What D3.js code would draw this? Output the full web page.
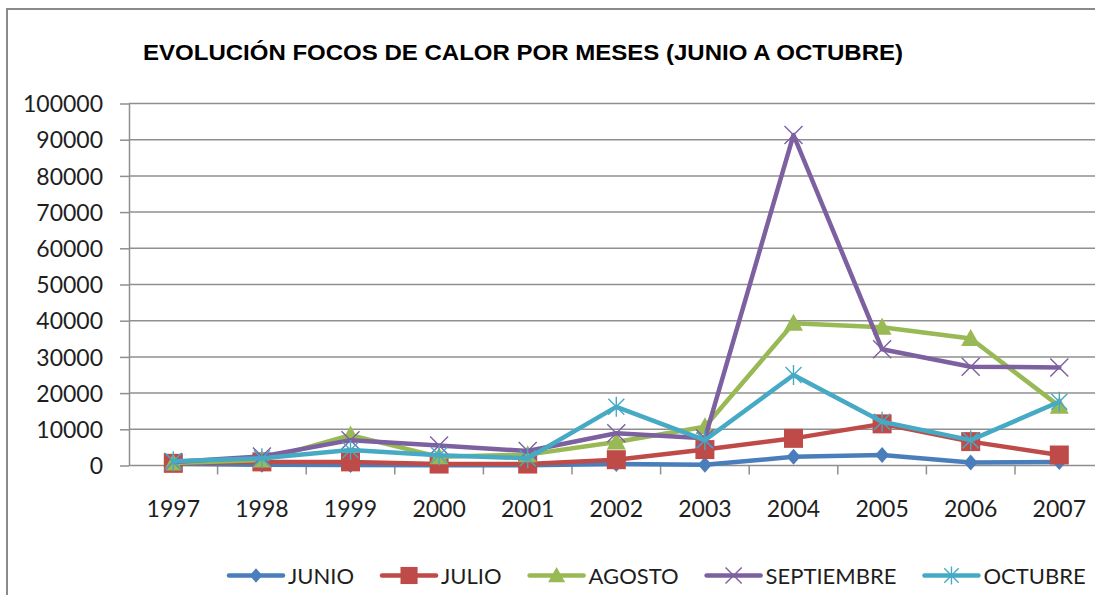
<!DOCTYPE html>
<html><head><meta charset="utf-8">
<script src="https://cdn.jsdelivr.net/npm/d3@7"></script>
<style>body{margin:0;background:#fff}svg{display:block}</style>
</head><body>
<svg id="c" width="1095" height="595"></svg>
<script>
const years = ["1997","1998","1999","2000","2001","2002","2003","2004","2005","2006","2007"];
const junio      = [500, 200, 150, 100, 100, 400, 200, 2400, 2900, 800, 1000];
const julio      = [600, 1000, 1000, 400, 400, 1600, 4400, 7500, 11500, 6600, 2900];
const agosto     = [700, 1500, 8400, 2400, 3000, 6500, 10700, 39300, 38200, 35100, 16400];
const septiembre = [1000, 2500, 7000, 5500, 4000, 8900, 7500, 91300, 32100, 27300, 27100];
const octubre    = [1200, 2000, 4300, 2800, 2000, 16200, 7000, 25000, 12100, 7000, 17600];
const seriesNames = ["JUNIO","JULIO","AGOSTO","SEPTIEMBRE","OCTUBRE"];
const yTicks = [0,10000,20000,30000,40000,50000,60000,70000,80000,90000,100000];
const titleText = "EVOLUCIÓN FOCOS DE CALOR POR MESES (JUNIO A OCTUBRE)";

const seriesValues = [junio, julio, agosto, septiembre, octubre];
const colors = ["#4A7EBB","#BE4B48","#98B954","#7D60A0","#46AAC5"];
const markerKinds = ["diamond","square","triangle","x","star"];

const svg = d3.select("#c");
const tickFont = "Lato, 'Liberation Sans', sans-serif";
const tickWeight = 400;
const textColor = "#1e1e1e";

// border
svg.append("path").attr("d","M7,600 V9 H1100").attr("fill","none")
  .attr("stroke","#8a8a8a").attr("stroke-width",2);

// title
svg.append("text").attr("x",143).attr("y",59.5)
  .attr("font-family","'Liberation Sans', Arial, sans-serif")
  .attr("font-weight","bold").attr("font-size",21.4)
  .attr("textLength",760).attr("lengthAdjust","spacingAndGlyphs")
  .attr("fill","#000").text(titleText);

const x = d3.scaleBand().domain(years).range([129, 1103.6]).paddingInner(0).paddingOuter(0);
const y = d3.scaleLinear().domain([0,100000]).range([465.5, 103.5]);
const cx = d => x(d) + x.bandwidth()/2;

// gridlines
svg.append("g").selectAll("line").data(yTicks.filter(t=>t>0)).join("line")
  .attr("x1",129).attr("x2",1104).attr("y1",d=>y(d)).attr("y2",d=>y(d))
  .attr("stroke","#8f8f8f").attr("stroke-width",1.5);

// y axis
const ya = svg.append("g").attr("transform","translate(129,0)")
  .call(d3.axisLeft(y).tickValues(yTicks).tickSize(9).tickSizeOuter(0).tickPadding(17).tickFormat(d=>String(d)));
ya.select(".domain").attr("stroke","#8f8f8f").attr("stroke-width",1.5);
ya.selectAll(".tick line").attr("stroke","#8f8f8f").attr("stroke-width",1.5);
ya.selectAll("text").attr("font-family",tickFont).attr("font-weight",tickWeight).attr("font-size",23).attr("fill",textColor).attr("dy","0.36em");

// x axis
const xa = svg.append("g").attr("transform","translate(0,465.5)")
  .call(d3.axisBottom(x).tickSize(0).tickSizeOuter(0));
xa.select(".domain").attr("stroke","#8f8f8f").attr("stroke-width",1.5).attr("d","M129,0H1104");
xa.selectAll("text").attr("font-family",tickFont).attr("font-weight",tickWeight).attr("font-size",23).attr("fill",textColor)
  .attr("y",51.5).attr("dy",0);
xa.append("g").selectAll("line").data(years.slice(1).map(d=>x(d)).concat([x.range()[1]])).join("line")
  .attr("x1",d=>d).attr("x2",d=>d).attr("y1",0).attr("y2",9)
  .attr("stroke","#8f8f8f").attr("stroke-width",1.5);

function drawMarker(g, kind, color, s){
  s = s || 1;
  if(kind==="diamond"){
    g.append("path").attr("d",`M0,${-8*s}L${7*s},0L0,${8*s}L${-7*s},0Z`).attr("fill",color);
  } else if(kind==="square"){
    g.append("rect").attr("x",-9.5*s).attr("y",-9.5*s).attr("width",19*s).attr("height",19*s).attr("fill",color);
  } else if(kind==="triangle"){
    g.append("path").attr("d",`M0,${-9.5*s}L${9.5*s},${7.5*s}L${-9.5*s},${7.5*s}Z`).attr("fill",color);
  } else if(kind==="x"){
    g.append("path").attr("d",`M${-9*s},${-9*s}L${9*s},${9*s}M${9*s},${-9*s}L${-9*s},${9*s}`)
      .attr("stroke",color).attr("stroke-width",1.4).attr("fill","none");
  } else if(kind==="star"){
    g.append("path").attr("d",`M${-8*s},${-8*s}L${8*s},${8*s}M${8*s},${-8*s}L${-8*s},${8*s}M0,${-10*s}V${10*s}`)
      .attr("stroke",color).attr("stroke-width",1.4).attr("fill","none");
  }
}

const line = d3.line().x(d=>cx(d.year)).y(d=>y(d.v));
seriesValues.forEach((vals,i)=>{
  const pts = vals.map((v,j)=>({year:years[j], v}));
  const g = svg.append("g");
  g.append("path").datum(pts).attr("d",line).attr("fill","none")
    .attr("stroke",colors[i]).attr("stroke-width",4.5).attr("stroke-linejoin","round").attr("stroke-linecap","round");
  g.selectAll("g.m").data(pts).join("g").attr("class","m")
    .attr("transform",d=>`translate(${cx(d.year)},${y(d.v)})`)
    .each(function(){ drawMarker(d3.select(this), markerKinds[i], colors[i]); });
});

// legend
let lx = 229;
const ly = 575.5;
seriesNames.forEach((name,i)=>{
  const g = svg.append("g");
  g.append("line").attr("x1",lx).attr("x2",lx+54).attr("y1",ly).attr("y2",ly)
    .attr("stroke",colors[i]).attr("stroke-width",4.5).attr("stroke-linecap","round");
  const mg = g.append("g").attr("transform",`translate(${lx+27},${ly})`);
  drawMarker(mg, markerKinds[i], colors[i], 0.9);
  const t = g.append("text").attr("x",lx+59).attr("y",583.5)
    .attr("font-family",tickFont).attr("font-weight",tickWeight).attr("font-size",22).attr("fill",textColor).text(name);
  const w = t.node().getComputedTextLength();
  lx = lx + 59 + w + 28;
});
</script>
</body></html>
